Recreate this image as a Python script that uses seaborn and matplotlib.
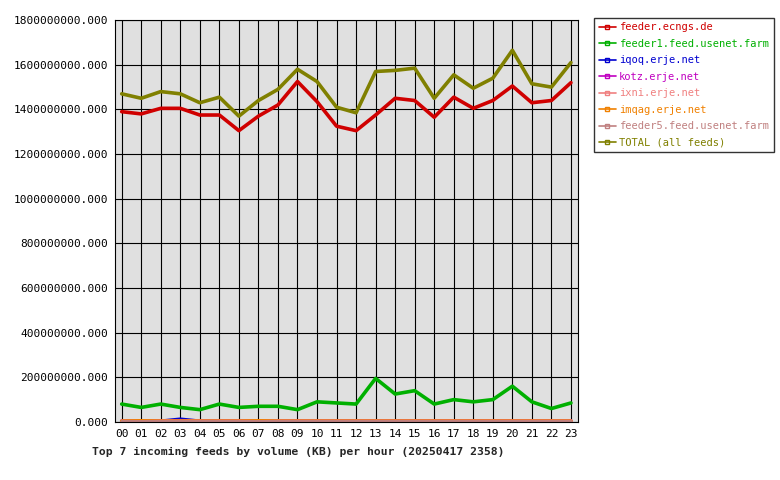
import numpy as np
import pandas as pd
import matplotlib
matplotlib.use("Agg")
import matplotlib.pyplot as plt
import seaborn as sns
from matplotlib.lines import Line2D
from matplotlib.ticker import FuncFormatter, MultipleLocator

hours = ["%02d" % h for h in range(24)]

feeder_ecngs = [1390, 1380, 1405, 1405, 1375, 1375, 1305, 1370, 1420, 1525, 1435, 1325,
                1305, 1375, 1450, 1440, 1365, 1455, 1405, 1440, 1505, 1430, 1440, 1520]
feeder1 = [80, 65, 80, 65, 55, 80, 65, 70, 70, 55, 90, 85,
           80, 195, 125, 140, 80, 100, 90, 100, 160, 90, 60, 85]
iqoq = [3, 3, 3, 12, 3, 3, 3, 3, 3, 3, 3, 3, 3, 3, 3, 3, 3, 3, 3, 3, 3, 3, 3, 3]
kotz = [2] * 24
ixni = [2] * 24
imqag = [3, 5, 3, 3, 3, 3, 3, 5, 3, 3, 3, 3, 3, 3, 3, 3, 3, 3, 3, 3, 3, 3, 3, 3]
feeder5 = [1] * 24
total = [1470, 1450, 1480, 1470, 1430, 1455, 1370, 1440, 1490, 1580, 1525, 1410,
         1385, 1570, 1575, 1585, 1450, 1555, 1495, 1540, 1665, 1515, 1500, 1610]

series = [
    ("feeder.ecngs.de", feeder_ecngs, "#d00000"),
    ("feeder1.feed.usenet.farm", feeder1, "#00b000"),
    ("iqoq.erje.net", iqoq, "#0000d0"),
    ("kotz.erje.net", kotz, "#c000c0"),
    ("ixni.erje.net", ixni, "#f08080"),
    ("imqag.erje.net", imqag, "#f08000"),
    ("feeder5.feed.usenet.farm", feeder5, "#c08080"),
    ("TOTAL (all feeds)", total, "#808000"),
]

sns.set_style("white")
plt.rcParams["font.family"] = ["DejaVu Sans Mono"]

fig = plt.figure(figsize=(7.8, 4.8), dpi=100)
ax = fig.add_axes([0.147, 0.121, 0.594, 0.837])
ax.set_facecolor("#e0e0e0")

x = np.arange(24)
order = [1, 2, 3, 4, 5, 6, 0, 7]
for i in order:
    name, vals, col = series[i]
    sns.lineplot(x=x, y=np.array(vals) * 1e6, color=col, linewidth=2.6, ax=ax, legend=False)
# feeder5 on top near zero
sns.lineplot(x=x, y=np.array(feeder5) * 1e6, color="#c08080", linewidth=2.6, ax=ax, legend=False)

ax.set_xlim(-0.36, 23.36)
ax.set_ylim(0, 1.8e9)
ax.set_xticks(x)
ax.set_xticklabels(hours, fontsize=8)
ax.yaxis.set_major_locator(MultipleLocator(2e8))
ax.yaxis.set_major_formatter(FuncFormatter(lambda v, p: "%.3f" % v))
ax.tick_params(axis="both", labelsize=8, colors="black", length=3, pad=2)
ax.grid(True, color="black", linewidth=0.8)
ax.set_axisbelow(True)
for s in ax.spines.values():
    s.set_color("black")
ax.set_xlabel("")
ax.set_ylabel("")
fig.text(92 / 780, 1 - 452 / 480, "Top 7 incoming feeds by volume (KB) per hour (20250417 2358)",
         fontsize=8.2, fontweight="bold", ha="left", va="center")

handles = [Line2D([0], [0], color=c, linewidth=1.2, marker="s", markersize=2.5,
                  markerfacecolor="none") for _, _, c in series]
leg = fig.legend(handles, [n for n, _, _ in series], loc="upper left",
                 bbox_to_anchor=(0.762, 0.963), frameon=True, fancybox=False,
                 fontsize=7.5, handlelength=1.6, handletextpad=0.3,
                 labelspacing=0.62, borderpad=0.45, borderaxespad=0)
leg.get_frame().set_edgecolor("black")
for t, (_, _, c) in zip(leg.get_texts(), series):
    t.set_color(c)

fig.savefig("out.png", dpi=100)
